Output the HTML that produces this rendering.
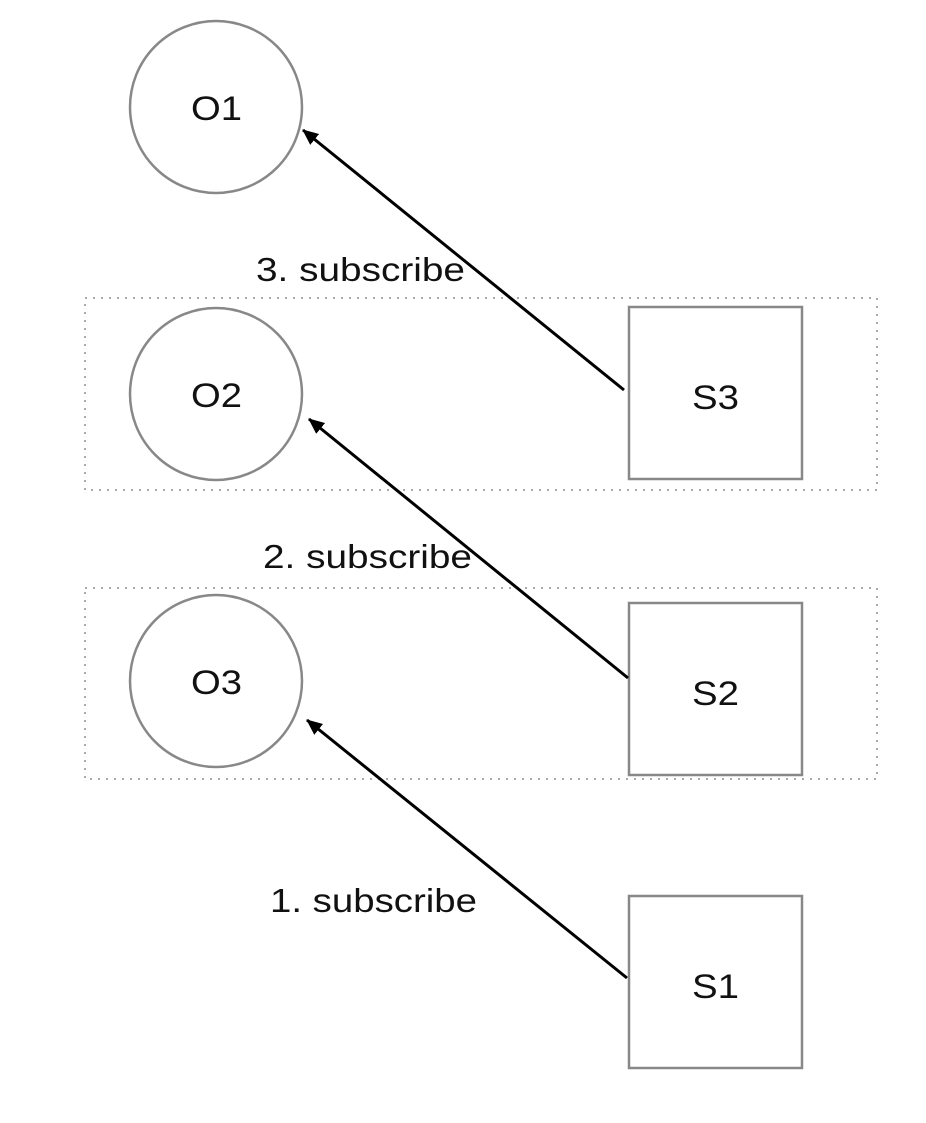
<!DOCTYPE html>
<html><head><style>html,body{margin:0;padding:0;background:#fff}</style></head>
<body>
<svg width="926" height="1118" viewBox="0 0 926 1118" xmlns="http://www.w3.org/2000/svg" font-family="Liberation Sans, sans-serif">
<defs>
<marker id="b" markerWidth="16" markerHeight="14" refX="15" refY="7" orient="auto" markerUnits="userSpaceOnUse">
<path d="M0,0 L16,7 L0,14 z" fill="#000"/>
</marker>
</defs>
<g fill="none" stroke="#aaa" stroke-width="2" stroke-dasharray="2,6">
<rect x="85" y="298" width="792" height="192"/>
<rect x="85" y="588" width="792" height="191"/>
</g>
<g fill="#fff" stroke="#888" stroke-width="2.5">
<circle cx="216" cy="107" r="86"/>
<circle cx="216" cy="394" r="86"/>
<circle cx="216" cy="681" r="86"/>
<rect x="629" y="307" width="173" height="172"/>
<rect x="629" y="603" width="173" height="172"/>
<rect x="629" y="896" width="173" height="172"/>
</g>
<g stroke="#000" stroke-width="3" marker-end="url(#b)">
<line x1="624" y1="390" x2="303" y2="130"/>
<line x1="628" y1="678" x2="309" y2="419"/>
<line x1="627" y1="978" x2="307" y2="720"/>
</g>
<g font-size="34" fill="#111" lengthAdjust="spacingAndGlyphs">
<text x="191" y="120" textLength="51" lengthAdjust="spacingAndGlyphs">O1</text>
<text x="191" y="407" textLength="51" lengthAdjust="spacingAndGlyphs">O2</text>
<text x="191" y="694" textLength="51" lengthAdjust="spacingAndGlyphs">O3</text>
<text x="692" y="409" textLength="47" lengthAdjust="spacingAndGlyphs">S3</text>
<text x="692" y="705" textLength="47" lengthAdjust="spacingAndGlyphs">S2</text>
<text x="692" y="998" textLength="47" lengthAdjust="spacingAndGlyphs">S1</text>
</g>
<g font-size="33" fill="#111">
<text x="256" y="281" textLength="209" lengthAdjust="spacingAndGlyphs">3. subscribe</text>
<text x="263" y="568" textLength="209" lengthAdjust="spacingAndGlyphs">2. subscribe</text>
<text x="270" y="912" textLength="207" lengthAdjust="spacingAndGlyphs">1. subscribe</text>
</g>
</svg>
</body></html>
